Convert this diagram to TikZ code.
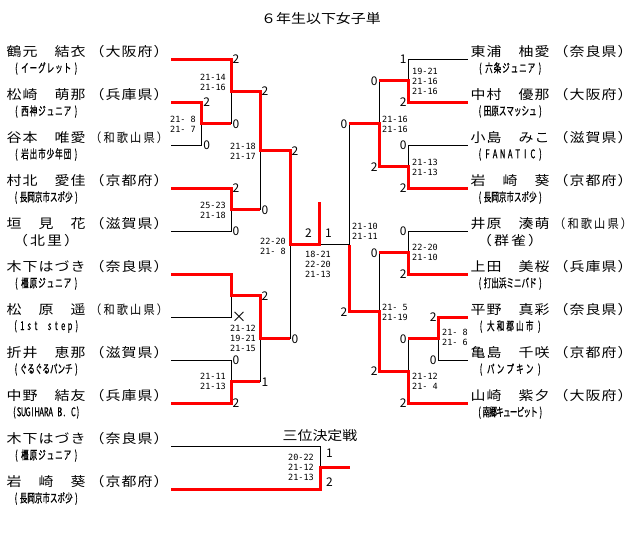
\documentclass[tikz,border=0pt]{standalone}
\usepackage{fontspec}
\setmainfont{Noto Sans CJK JP}
\newfontfamily\jpwide[FakeStretch=1.15]{Noto Sans CJK JP}
\newfontfamily\jpcond[FakeStretch=0.9]{Noto Sans CJK JP}
\newfontfamily\jpclub[FakeStretch=0.63,FakeBold=0.6]{Noto Sans CJK JP}
\newfontfamily\jpmono{DejaVu Sans Mono}
\newcommand\namefont{\jpwide\fontsize{13pt}{15pt}\selectfont}
\newcommand\condfont{\jpcond\fontsize{12.5pt}{15pt}\selectfont}
\newcommand\clubfont{\jpclub\fontsize{12pt}{13pt}\selectfont}
\newcommand\scorefont{\jpmono\fontsize{8.5pt}{10pt}\selectfont}
\newcommand\digitfont{\fontsize{12pt}{14pt}\selectfont}
% spread the characters of #1 evenly over the width #2
\newcount\chcnt
\newdimen\chwd
\def\chcountA#1{\ifx#1\relax\else\advance\chcnt by 1\relax\expandafter\chcountA\fi}
\def\chboxA#1{\ifx#1\relax\else\hbox to\chwd{\hss#1\hss}\expandafter\chboxA\fi}
\newcommand\spread[2]{\chcnt=0\relax\chcountA#1\relax\chwd=#2\relax\divide\chwd by\chcnt\hbox{\chboxA#1\relax}}
\newcommand\spreadx[2]{\expandafter\spread\expandafter{#1}{#2}}
\usetikzlibrary{positioning}

\begin{document}
\begin{tikzpicture}[x=1pt,y=-1pt,
  lose/.style={draw=black,line width=0.8pt},
  win/.style={draw=red,line width=3pt},
  nm/.style={anchor=west,inner sep=0pt},
  digit/.style={inner sep=0pt,font=\digitfont},
  games/.style={inner sep=0pt,font=\scorefont}]
\useasboundingbox (0,0) rectangle (640,541);
\node[font=\namefont] (title) at (321,19) {６年生以下女子単};

% players, left half and third place
\foreach \row/\nm/\pf/\pfn/\cl/\cfn in {
  0/鶴元　結衣/（大阪府）/\namefont/(イーグレット)/\clubfont,
  1/松崎　萌那/（兵庫県）/\namefont/(西神ジュニア)/\clubfont,
  2/谷本　唯愛/（和歌山県）/\condfont/(岩出市少年団)/\clubfont,
  3/村北　愛佳/（京都府）/\namefont/(長岡京市スポ少)/\clubfont,
  4/垣　見　花/（滋賀県）/\namefont/（北里）/\namefont,
  5/木下はづき/（奈良県）/\namefont/(橿原ジュニア)/\clubfont,
  6/松　原　遥/（和歌山県）/\condfont/(1st　step)/\clubfont,
  7/折井　恵那/（滋賀県）/\namefont/(ぐるぐるパンチ)/\clubfont,
  8/中野　結友/（兵庫県）/\namefont/(SUGIHARA　B.　C)/\clubfont,
  9/木下はづき/（奈良県）/\namefont/(橿原ジュニア)/\clubfont,
  10/岩　崎　葵/（京都府）/\namefont/(長岡京市スポ少)/\clubfont}{
  \coordinate (a\row) at (171,59.3+43*\row);
  \node[nm,font=\namefont] (ln\row) at (6,52+43*\row) {\spreadx{\nm}{80pt}};
  \node[nm,font=\pfn] (lp\row) at (89,52+43*\row) {\spreadx{\pf}{80pt}};
  \node[nm,font=\cfn] (lc\row) at (12,68.5+43*\row) {\spreadx{\cl}{68pt}};
}
% players, right half
\foreach \row/\nm/\pf/\pfn/\cl/\cfn in {
  0/東浦　柚愛/（奈良県）/\namefont/(六条ジュニア)/\clubfont,
  1/中村　優那/（大阪府）/\namefont/(田原スマッシュ)/\clubfont,
  2/小島　みこ/（滋賀県）/\namefont/(FANATIC)/\clubfont,
  3/岩　崎　葵/（京都府）/\namefont/(長岡京市スポ少)/\clubfont,
  4/井原　湊萌/（和歌山県）/\condfont/（群雀）/\namefont,
  5/上田　美桜/（兵庫県）/\namefont/(打出浜ミニバド)/\clubfont,
  6/平野　真彩/（奈良県）/\namefont/(大和郡山市)/\clubfont,
  7/亀島　千咲/（京都府）/\namefont/(パンプキン)/\clubfont,
  8/山崎　紫夕/（大阪府）/\namefont/(南郷キューピット)/\clubfont}{
  \coordinate (b\row) at (467.7,59.3+43*\row);
  \node[nm,font=\namefont] (rn\row) at (470,52+43*\row) {\spreadx{\nm}{80pt}};
  \node[nm,font=\pfn] (rp\row) at (553,52+43*\row) {\spreadx{\pf}{80pt}};
  \node[nm,font=\cfn] (rc\row) at (476,68.5+43*\row) {\spreadx{\cl}{68pt}};
}

% match points
\coordinate (m1) at (201.7,123.8);
\coordinate (m2) at (231,91.6);
\coordinate (m3) at (231,209.8);
\coordinate (m4) at (231,295.8);
\coordinate (m5) at (231,381.8);
\coordinate (q1) at (260,150.7);
\coordinate (q2) at (260,338.8);
\coordinate (s1) at (290,244.7);
\coordinate (f)  at (319.3,244.7);
\coordinate (ft) at (319.3,202.3);
\coordinate (s2) at (349,244.7);
\coordinate (r1) at (408.3,80.8);
\coordinate (r2) at (408.3,166.8);
\coordinate (r3) at (408.3,252.8);
\coordinate (r4) at (438.3,338.8);
\coordinate (r5) at (408.3,371);
\coordinate (p1) at (379.3,123.8);
\coordinate (p2) at (379.3,311.9);
\coordinate (t)  at (320,467.8);
\coordinate (tt) at (350,467.8);

\foreach \u/\v in {a1/m1,a2/m1,a0/m2,m1/m2,a3/m3,a4/m3,m2/q1,m3/q1,
  a5/m4,a6/m4,a7/m5,a8/m5,m4/q2,m5/q2,q1/s1,q2/s1,
  b0/r1,b1/r1,b2/r2,b3/r2,r1/p1,r2/p1,b4/r3,b5/r3,b6/r4,b7/r4,
  r4/r5,b8/r5,r3/p2,r5/p2,p1/s2,p2/s2,a9/t,a10/t}
  \draw[lose] (\u) -| (\v);
\draw[lose] (s1) -- (s2);

% winners
\draw[win] (a0) -| (m2) -| (q1) -| (s1) -- (f) -- (ft);
\draw[win] (a1) -| (m1) -- (m1 -| m2);
\draw[win] (a3) -| (m3) -- (m3 -| q1);
\draw[win] (a5) -| (m4) -| (q2) -- (q2 -| s1);
\draw[win] (a8) -| (m5) -- (m5 -| q2);
\draw[win] (b1) -| (r1) -- (r1 -| p1);
\draw[win] (b3) -| (r2) -| (p1) -- (p1 -| s2);
\draw[win] (b5) -| (r3) -- (r3 -| p2);
\draw[win] (b6) -| (r4) -- (r4 -| r5);
\draw[win] (b8) -| (r5) -| (p2) -| (s2);
\draw[win] (a10) -| (t) -- (tt);

% match scores
\foreach \x/\y/\dg [count=\k] in {232.5/59.3/2,203.2/102.3/2,203.2/145.3/0,
  232.5/123.8/0,261.5/91.6/2,232.5/188.3/2,232.5/231.3/0,261.5/209.8/0,
  291.5/150.7/2,261.5/295.8/2,232.5/360.3/0,232.5/403.3/2,261.5/381.8/1,
  291.5/338.8/0}
  \node[digit,anchor=west] (dl\k) at (\x,\y) {\dg};
\foreach \x/\y/\dg [count=\k] in {406.8/59.3/1,406.8/102.3/2,377.8/80.8/0,
  406.8/145.3/0,406.8/188.3/2,377.8/166.8/2,347.5/123.8/0,406.8/231.3/0,
  406.8/274.3/2,377.8/252.8/0,436.8/317.3/2,436.8/360.3/0,406.8/338.8/0,
  406.8/403.3/2,377.8/371/2,347.5/311.9/2}
  \node[digit,anchor=east] (dr\k) at (\x,\y) {\dg};
\foreach \x/\y/\dg [count=\k] in {308.5/233/2,328.5/233/1,329.5/453/1,329.5/482/2}
  \node[digit] (dc\k) at (\x,\y) {\dg};
\node[inner sep=0pt,anchor=west,font=\fontsize{15pt}{15pt}\selectfont] (x6) at (231.5,317.3) {×};

% game scores
\foreach \x/\y/\g [count=\k] in {226/82.5/21-14\\21-16,196/124/21-~8\\21-~7,
  256/151/21-18\\21-17,226/210/25-23\\21-18,286/246/22-20\\21-~8,
  256/338/21-12\\19-21\\21-15,226/381/21-11\\21-13,314/467/20-22\\21-12\\21-13}
  \node[games,anchor=east,align=right] (gl\k) at (\x,\y) {\g};
\foreach \x/\y/\g [count=\k] in {412/81.7/19-21\\21-16\\21-16,382/124.7/21-16\\21-16,
  412/167/21-13\\21-13,352/231.5/21-10\\21-11,412/252.5/22-20\\21-10,
  382/312/21-~5\\21-19,442/337.5/21-~8\\21-~6,412/381.7/21-12\\21-~4}
  \node[games,anchor=west,align=left] (gr\k) at (\x,\y) {\g};
\node[games,align=center] (gf) at (318,264.5) {18-21\\22-20\\21-13};

\node[font=\namefont] (thp) at (320,436) {三位決定戦};
\end{tikzpicture}
\end{document}
